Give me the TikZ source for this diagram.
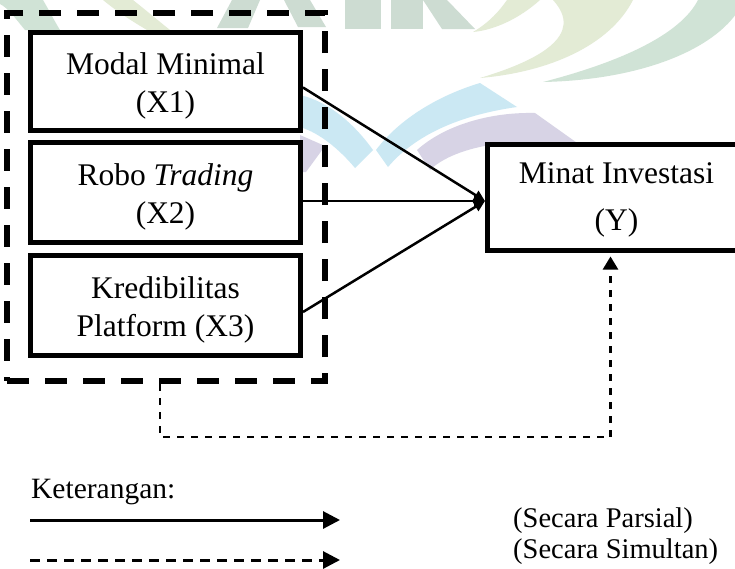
\documentclass[tikz,border=0pt]{standalone}
\usepackage{fontspec}
\setmainfont{Liberation Serif}
\usetikzlibrary{arrows.meta}
\newcommand{\bxtext}[2]{\raisebox{0pt}[30pt][45pt]{\begin{tabular}[t]{@{}c@{}}#1\\#2\end{tabular}}}
\newcommand{\ytext}[2]{\raisebox{0pt}[30pt][58pt]{\begin{tabular}[t]{@{}c@{}}#1\\#2\end{tabular}}}
\definecolor{wmblue}{HTML}{CBE8F3}
\definecolor{wmpurple}{HTML}{D7D3E5}
\definecolor{wmgreen}{HTML}{D0E3D6}
\definecolor{wmpale}{HTML}{E3EBD5}
\definecolor{wmletter}{HTML}{CDDCD2}
\tikzset{
  varbox/.style={draw, line width=5pt, inner sep=0pt, fill=white,
    font=\fontsize{31.5}{38}\selectfont},
  ybox/.style={draw, line width=5pt, inner sep=0pt, fill=white,
    font=\fontsize{31.5}{47}\selectfont},
  groupbox/.style={draw, line width=6pt, dash pattern=on 22pt off 16pt, inner sep=0pt},
  partial/.style={line width=2.5pt, -{Triangle[length=11pt,width=10pt]}},
  simul/.style={line width=2.5pt, dash pattern=on 7pt off 7pt, -{Triangle[length=13pt,width=15pt]}},
  legtext/.style={font=\fontsize{28.5}{30}\selectfont, inner sep=0pt, anchor=base west},
  legsolid/.style={line width=3pt, -{Triangle[length=17pt,width=17pt]}},
  legdash/.style={line width=3pt, dash pattern=on 10pt off 7pt, -{Triangle[length=17pt,width=17pt]}},
}
\begin{document}
\begin{tikzpicture}[x=1pt,y=-1pt]
\useasboundingbox (0,0) rectangle (735,568);
\clip (0,0) rectangle (735,568);
\fill[white] (0,0) rectangle (735,568);

% faint watermark
\fill[wmgreen] (0,0) -- (43,0) .. controls (50,12) and (55,22) .. (60,30) -- (25,30) .. controls (15,18) and (8,8) .. (0,4) -- cycle;
\fill[wmpale] (103,0) -- (133,0) .. controls (148,12) and (160,22) .. (170,30) -- (147,30) .. controls (130,20) and (115,10) .. (103,0) -- cycle;
\fill[wmletter] (232,0) -- (260,0) -- (248,28) -- (217,28) -- cycle;
\fill[wmletter] (284,0) -- (310,0) -- (326,27) -- (298,27) -- cycle;
\fill[wmletter] (345,0) -- (381,0) -- (381,29) -- (345,29) -- cycle;
\fill[wmletter] (391,0) -- (423,0) -- (423,29) -- (391,29) -- cycle;
\fill[wmletter] (423,0) -- (447,0) -- (475,29) -- (442,29) -- cycle;
\fill[wmgreen] (543,82) .. controls (620,62) and (680,35) .. (698,0) -- (740,0) -- (740,8)
  .. controls (715,50) and (640,80) .. (543,82) -- cycle;
\fill[wmpale] (480,78) .. controls (540,60) and (585,35) .. (553,0) -- (633,0)
  .. controls (610,45) and (550,72) .. (480,78) -- cycle;
\fill[wmpale] (473,32) .. controls (490,22) and (500,10) .. (507,0) -- (540,0)
  .. controls (520,18) and (495,30) .. (473,32) -- cycle;
\fill[wmblue] (300,95) .. controls (330,102) and (355,125) .. (373,150)
  -- (355,168) .. controls (340,150) and (320,133) .. (300,127) -- cycle;
\fill[wmblue] (376,150) .. controls (400,118) and (440,95) .. (480,83)
  -- (517,107) .. controls (460,115) and (415,135) .. (388,167) -- cycle;
\fill[wmpurple] (417,150) .. controls (445,125) and (490,112) .. (535,113)
  -- (580,145) -- (490,145) .. controls (460,150) and (440,160) .. (430,170) -- cycle;
\fill[wmpurple] (300,135) -- (325,146) -- (306,172) -- (300,172) -- cycle;

% group of independent variables
\node[groupbox, minimum width=318pt, minimum height=368pt] (grp) at (166,197) {};

\node[varbox, minimum width=270pt, minimum height=98pt] (x1) at (165.5,81.5)
  {\bxtext{Modal Minimal}{(X1)}};
\node[varbox, minimum width=270pt, minimum height=100pt] (x2) at (165.5,192.5)
  {\bxtext{Robo \textit{Trading}}{(X2)}};
\node[varbox, minimum width=270pt, minimum height=100pt] (x3) at (165.5,305.5)
  {\bxtext{Kredibilitas}{Platform (X3)}};

\node[ybox, minimum width=258pt, minimum height=106pt] (y) at (616.5,197)
  {\ytext{Minat Investasi}{(Y)}};

% partial effects
\draw[partial] ([yshift=-6pt]x1.east) -- ([yshift=-4pt]y.west);
\draw[partial] ([yshift=-8.5pt]x2.east) -- ([yshift=-4pt]y.west);
\draw[partial] ([yshift=-6.5pt]x3.east) -- ([yshift=-4pt]y.west);

% simultaneous effect
\coordinate (bend) at (160,437);
\draw[simul, shorten >=4pt] ([xshift=-6pt]grp.south) -- (bend) -| ([xshift=-6pt]y.south);

% legend
\node[legtext, font=\fontsize{29.5}{30}\selectfont] (ket) at (31,498) {Keterangan:};
\coordinate (l1a) at (30,520);
\coordinate (l1b) at (340,520);
\coordinate (l2a) at (30,560);
\coordinate (l2b) at (340,560);
\draw[legsolid] (l1a) -- (l1b);
\draw[legdash] (l2a) -- (l2b);
\node[legtext] (parsial) at (513,527) {(Secara Parsial)};
\node[legtext] (simultan) at (513,558) {(Secara Simultan)};
\end{tikzpicture}
\end{document}
